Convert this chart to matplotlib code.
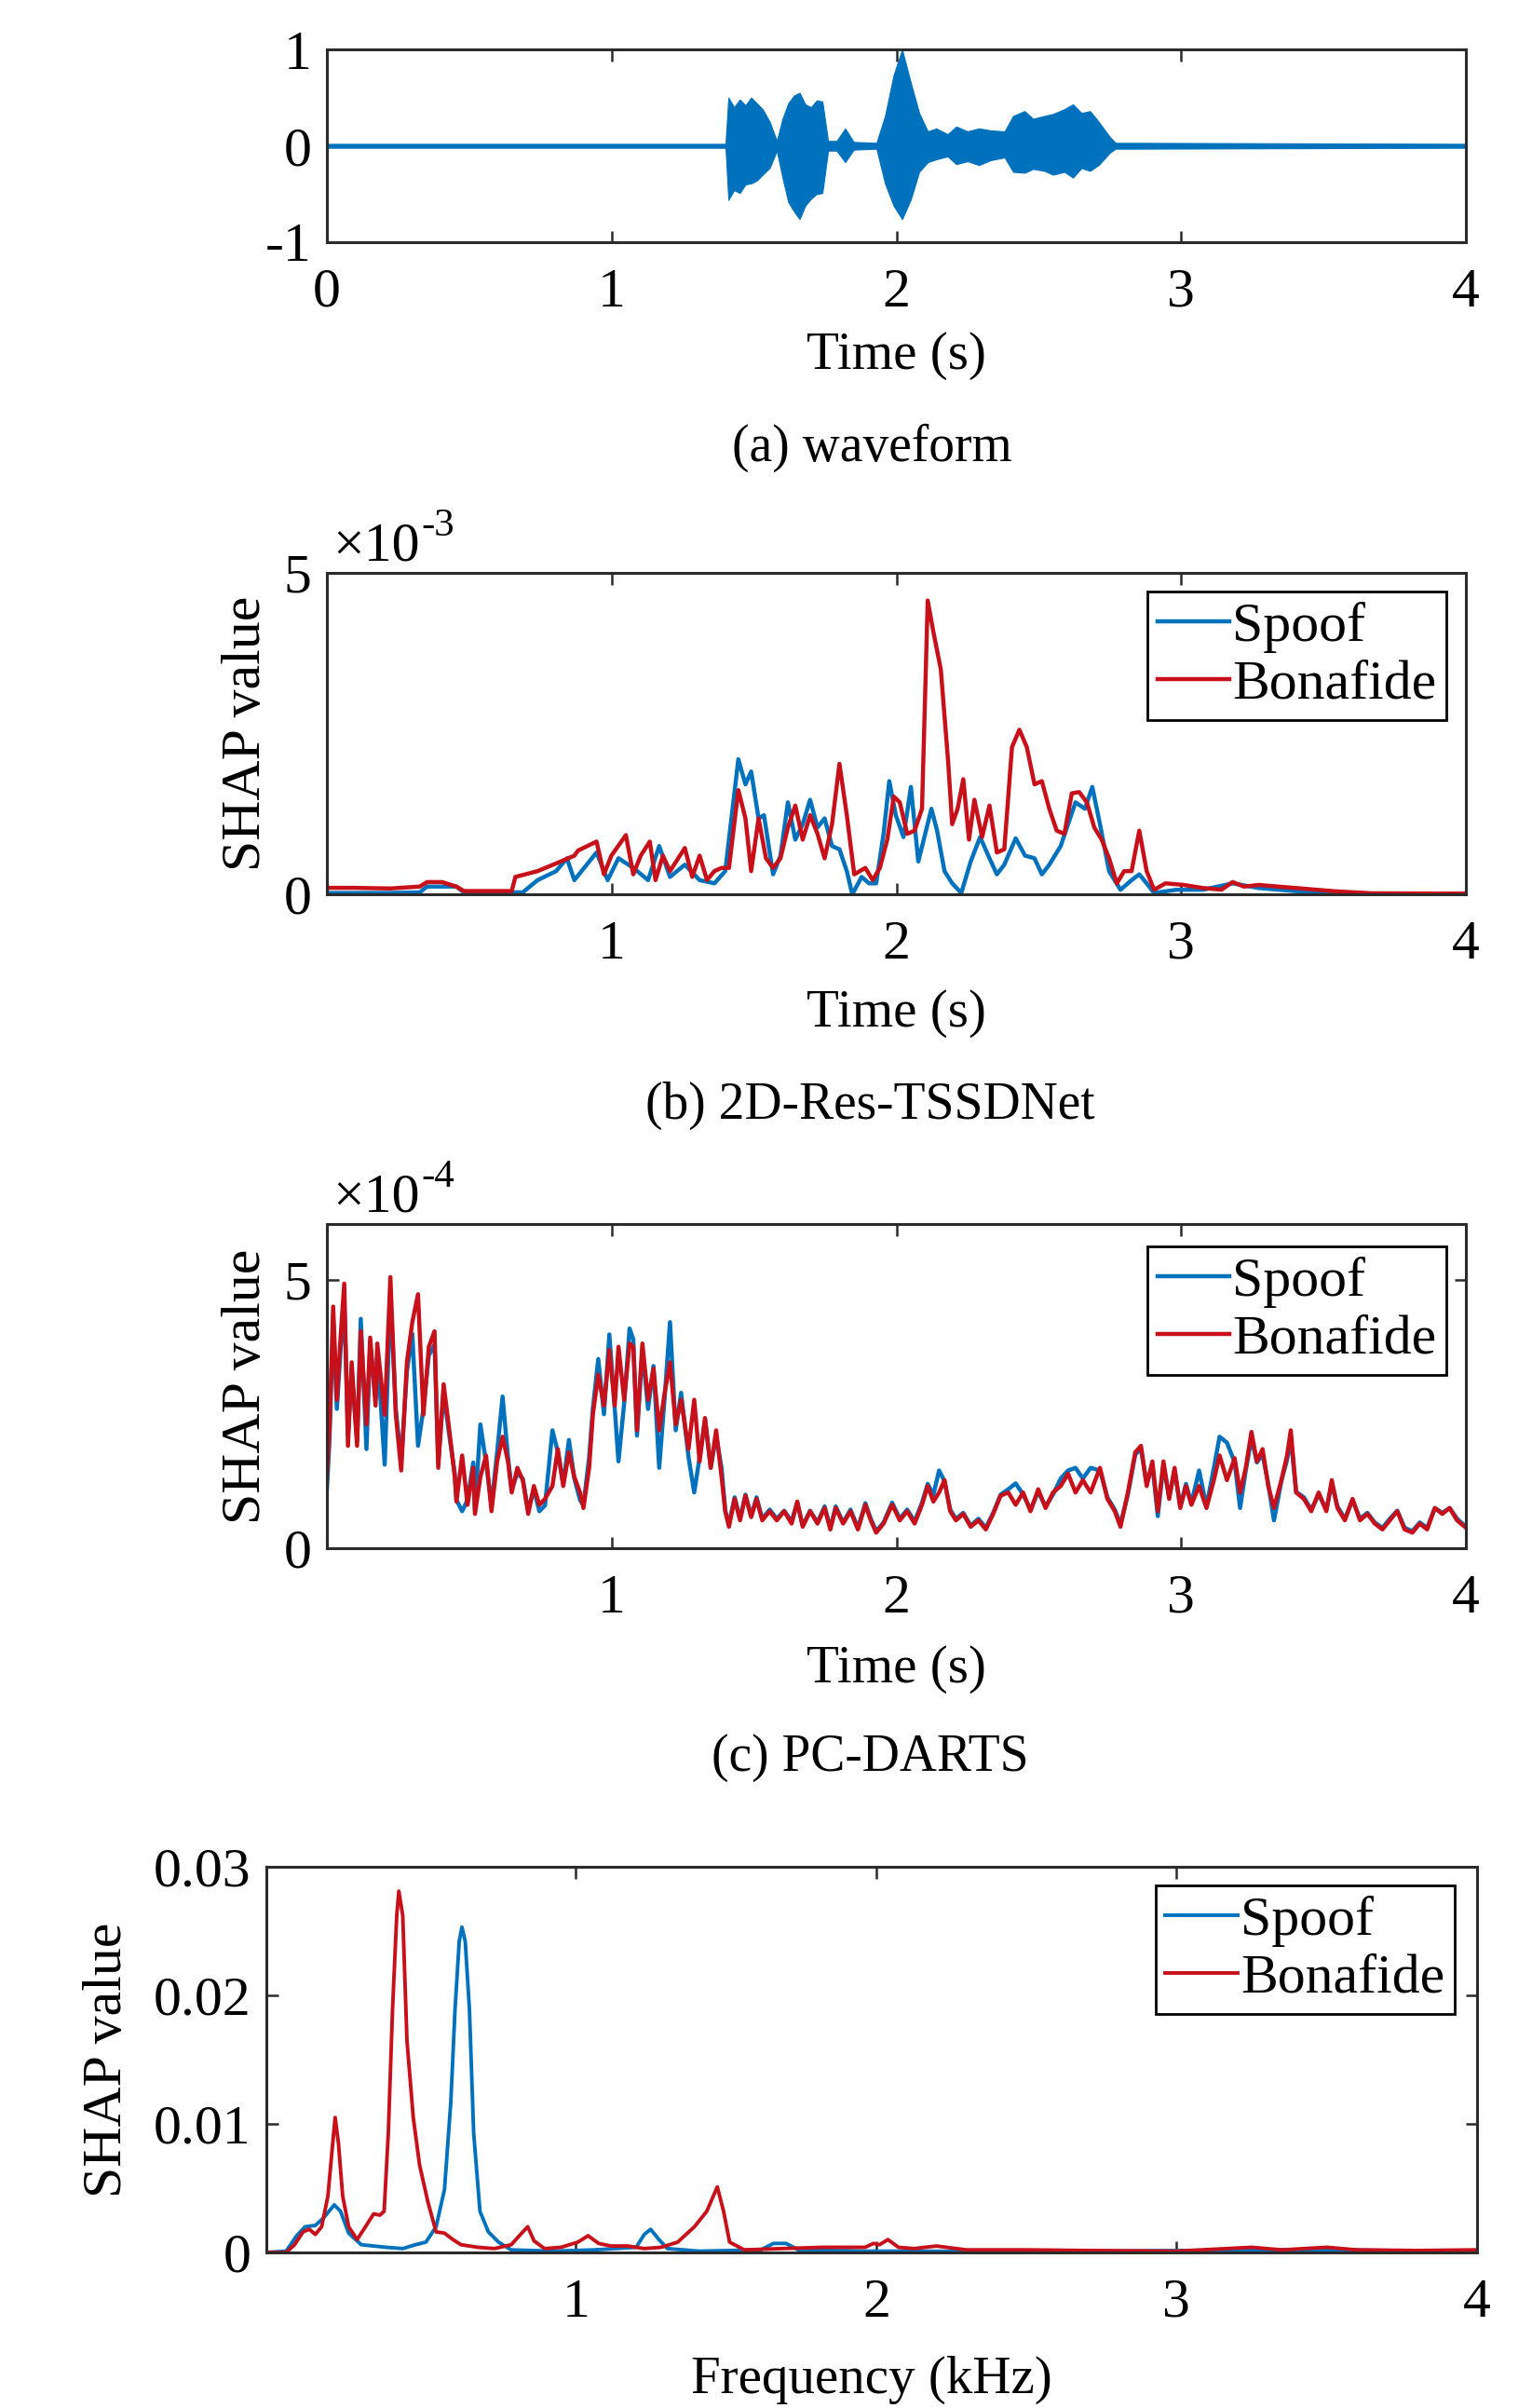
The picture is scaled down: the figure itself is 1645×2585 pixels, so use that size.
import numpy as np
from matplotlib import pyplot as plt

plt.rcParams['font.family'] = ['Liberation Serif', 'DejaVu Serif']
plt.rcParams['axes.unicode_minus'] = False

FS_TICK = 43
FS_LAB = 41
FS_LEG = 43
FS_CAP = 40
BLUE = '#0072BD'
RED = '#C8101A'
FRAME = '#2b2b2b'

# (a) waveform, read as upper / lower envelope of the signal
wave_t = [0.00, 1.40, 1.41, 1.43, 1.45, 1.47, 1.49, 1.51, 1.53, 1.555,
          1.58, 1.60, 1.62, 1.64, 1.66, 1.68, 1.70, 1.72, 1.74, 1.76,
          1.79, 1.82, 1.85, 1.93, 1.96, 1.99, 2.02, 2.05, 2.08, 2.11,
          2.14, 2.18, 2.21, 2.25, 2.29, 2.33, 2.38, 2.41, 2.45, 2.48,
          2.52, 2.55, 2.59, 2.62, 2.65, 2.68, 2.71, 2.75, 2.77, 2.86,
          4.00]
wave_up = [0.02, 0.02, 0.50, 0.40, 0.48, 0.42, 0.50, 0.44, 0.38, 0.25,
           0.05, 0.28, 0.44, 0.52, 0.55, 0.43, 0.40, 0.47, 0.46, 0.05,
           0.05, 0.18, 0.04, 0.03, 0.31, 0.73, 1.00, 0.66, 0.34, 0.15,
           0.18, 0.12, 0.20, 0.15, 0.18, 0.16, 0.15, 0.31, 0.36, 0.28,
           0.31, 0.33, 0.38, 0.43, 0.34, 0.36, 0.25, 0.09, 0.03, 0.03,
           0.02]
wave_lo = [-0.02, -0.02, -0.56, -0.46, -0.49, -0.40, -0.39, -0.36, -0.30, -0.23,
           -0.05, -0.33, -0.58, -0.68, -0.76, -0.62, -0.55, -0.50, -0.49, -0.05,
           -0.05, -0.17, -0.04, -0.03, -0.39, -0.62, -0.76, -0.56, -0.27, -0.17,
           -0.14, -0.11, -0.19, -0.16, -0.20, -0.15, -0.12, -0.27, -0.28, -0.24,
           -0.26, -0.30, -0.27, -0.33, -0.23, -0.26, -0.20, -0.07, -0.03, -0.03,
           -0.02]

# (b) 2D-Res-TSSDNet, values in units of 1e-3
b_spoof_t = [0.000, 0.223, 0.326, 0.352, 0.404, 0.455, 0.481, 0.688, 0.740, 0.805,
             0.843, 0.869, 0.947, 0.986, 1.024, 1.076, 1.128, 1.167, 1.205, 1.257,
             1.309, 1.361, 1.399, 1.445, 1.470, 1.490, 1.516, 1.535, 1.567, 1.593,
             1.619, 1.645, 1.671, 1.697, 1.723, 1.748, 1.774, 1.800, 1.826, 1.845,
             1.878, 1.904, 1.929, 1.955, 1.975, 1.998, 2.025, 2.051, 2.077, 2.104,
             2.123, 2.143, 2.169, 2.196, 2.228, 2.261, 2.294, 2.327, 2.353, 2.379,
             2.419, 2.452, 2.485, 2.511, 2.537, 2.577, 2.603, 2.629, 2.662, 2.688,
             2.715, 2.747, 2.787, 2.826, 2.853, 2.879, 2.905, 2.984, 3.076, 3.181,
             3.273, 3.404, 3.667, 4.000]
b_spoof_v = [0.02, 0.02, 0.03, 0.12, 0.12, 0.12, 0.03, 0.03, 0.22, 0.36,
             0.56, 0.22, 0.65, 0.22, 0.56, 0.41, 0.22, 0.75, 0.27, 0.46,
             0.22, 0.17, 0.36, 2.10, 1.71, 1.91, 1.18, 1.23, 0.31, 0.60,
             1.43, 0.85, 1.09, 1.47, 1.04, 1.18, 0.75, 0.70, 0.36, 0.00,
             0.27, 0.17, 0.17, 0.94, 1.76, 1.23, 0.89, 1.67, 0.51, 0.99,
             1.33, 0.99, 0.36, 0.17, 0.02, 0.51, 0.89, 0.56, 0.31, 0.46,
             0.87, 0.60, 0.56, 0.31, 0.46, 0.75, 1.09, 1.43, 1.33, 1.67,
             1.09, 0.36, 0.07, 0.22, 0.31, 0.17, 0.02, 0.07, 0.07, 0.17,
             0.097, 0.048, 0.01, 0.01]
b_bona_t = [0.000, 0.093, 0.223, 0.326, 0.352, 0.404, 0.455, 0.481, 0.546, 0.649,
            0.662, 0.740, 0.805, 0.869, 0.882, 0.947, 0.973, 0.999, 1.050, 1.076,
            1.102, 1.134, 1.154, 1.180, 1.205, 1.257, 1.283, 1.309, 1.335, 1.361,
            1.386, 1.412, 1.445, 1.470, 1.490, 1.516, 1.542, 1.567, 1.593, 1.619,
            1.645, 1.671, 1.697, 1.723, 1.748, 1.774, 1.800, 1.826, 1.852, 1.891,
            1.917, 1.942, 1.968, 1.991, 2.012, 2.038, 2.064, 2.090, 2.110, 2.130,
            2.156, 2.182, 2.196, 2.215, 2.235, 2.255, 2.274, 2.301, 2.327, 2.353,
            2.379, 2.406, 2.432, 2.458, 2.485, 2.511, 2.537, 2.563, 2.590, 2.616,
            2.642, 2.669, 2.695, 2.721, 2.747, 2.774, 2.800, 2.826, 2.853, 2.879,
            2.905, 2.945, 3.010, 3.076, 3.142, 3.181, 3.220, 3.273, 3.339, 3.404,
            3.470, 3.536, 3.667, 4.000]
b_bona_v = [0.10, 0.10, 0.09, 0.12, 0.19, 0.19, 0.12, 0.05, 0.05, 0.05,
            0.27, 0.36, 0.48, 0.60, 0.68, 0.82, 0.31, 0.60, 0.92, 0.31,
            0.60, 0.82, 0.22, 0.60, 0.36, 0.72, 0.27, 0.60, 0.22, 0.36,
            0.41, 0.41, 1.62, 1.18, 0.36, 1.18, 0.56, 0.41, 0.56, 1.04,
            1.38, 0.85, 1.23, 0.94, 0.56, 1.09, 2.03, 1.23, 0.31, 0.41,
            0.22, 0.41, 0.85, 1.52, 1.43, 0.94, 0.99, 1.33, 4.57, 4.08,
            3.50, 2.05, 1.09, 1.33, 1.79, 0.85, 1.47, 0.89, 1.38, 0.65,
            0.70, 2.29, 2.56, 2.29, 1.71, 1.76, 1.33, 0.99, 0.94, 1.57,
            1.59, 1.43, 1.04, 0.85, 0.56, 0.17, 0.36, 0.36, 0.99, 0.36,
            0.07, 0.17, 0.145, 0.097, 0.072, 0.19, 0.12, 0.145, 0.12, 0.097,
            0.072, 0.048, 0.015, 0.01]

# (c) PC-DARTS, values in units of 1e-4 (both series share the time grid)
c_t = [0.000, 0.009, 0.022, 0.035, 0.048, 0.061, 0.074, 0.087, 0.106, 0.119,
       0.139, 0.152, 0.171, 0.177, 0.203, 0.223, 0.242, 0.261, 0.281, 0.300,
       0.320, 0.339, 0.358, 0.378, 0.391, 0.410, 0.430, 0.449, 0.455, 0.475,
       0.494, 0.514, 0.520, 0.539, 0.559, 0.578, 0.598, 0.617, 0.636, 0.649,
       0.669, 0.688, 0.707, 0.727, 0.746, 0.766, 0.792, 0.811, 0.830, 0.850,
       0.869, 0.889, 0.901, 0.921, 0.934, 0.953, 0.973, 0.992, 1.011, 1.024,
       1.044, 1.063, 1.076, 1.089, 1.108, 1.128, 1.147, 1.167, 1.186, 1.205,
       1.225, 1.244, 1.270, 1.290, 1.309, 1.328, 1.348, 1.367, 1.386, 1.399,
       1.412, 1.432, 1.451, 1.470, 1.490, 1.509, 1.529, 1.555, 1.580, 1.606,
       1.632, 1.652, 1.671, 1.697, 1.723, 1.748, 1.768, 1.787, 1.813, 1.839,
       1.865, 1.891, 1.910, 1.929, 1.955,
       1.985, 2.012, 2.038, 2.064, 2.090, 2.110, 2.130, 2.150, 2.169, 2.189,
       2.209, 2.235, 2.261, 2.288, 2.314, 2.340, 2.366, 2.393, 2.419, 2.445,
       2.471, 2.498, 2.524, 2.550, 2.577, 2.603, 2.629, 2.655, 2.682, 2.715,
       2.741, 2.767, 2.787, 2.813, 2.839, 2.859, 2.879, 2.899, 2.918, 2.938,
       2.958, 2.977, 2.997, 3.017, 3.036, 3.063, 3.089, 3.115, 3.135, 3.161,
       3.188, 3.207, 3.227, 3.247, 3.266, 3.286, 3.306, 3.326, 3.352, 3.372,
       3.385, 3.404, 3.431, 3.457, 3.483, 3.510, 3.529, 3.549, 3.575, 3.602,
       3.628, 3.654, 3.680, 3.707, 3.733, 3.759, 3.785, 3.812, 3.838, 3.864,
       3.891, 3.917, 3.943, 3.969, 3.996]
c_spoof_v = [1.10, 2.00, 4.30, 2.60, 3.70, 4.60, 2.10, 3.30, 2.00, 4.28,
             1.85, 3.80, 2.80, 3.70, 1.56, 4.70, 2.60, 1.60, 3.30, 4.00,
             1.91, 2.60, 3.60, 3.80, 1.60, 2.90, 2.10, 1.40, 0.90, 0.69,
             0.90, 1.60, 0.70, 2.31, 1.60, 0.80, 1.80, 2.83, 1.70, 1.10,
             1.40, 1.30, 0.70, 1.10, 0.69, 0.80, 2.20, 1.80, 1.20, 2.02,
             1.30, 0.90, 0.80, 1.70, 2.60, 3.53, 2.50, 3.99, 2.60, 1.62,
             2.70, 4.10, 3.90, 2.10, 3.70, 2.60, 3.40, 1.50, 2.80, 4.22,
             2.20, 2.90, 1.70, 1.04, 1.70, 2.40, 1.50, 2.10, 1.50, 0.70,
             0.45, 0.95, 0.55, 1.00, 0.60, 0.95, 0.55, 0.72, 0.55, 0.70,
             0.50, 0.85, 0.42, 0.70, 0.48, 0.78, 0.38, 0.78, 0.48, 0.72,
             0.38, 0.84, 0.55, 0.32, 0.48,
             0.85, 0.55, 0.72, 0.50, 0.85, 1.20, 1.00, 1.45, 1.25, 0.72,
             0.55, 0.66, 0.42, 0.55, 0.38, 0.66, 1.00, 1.10, 1.21, 1.00,
             0.72, 1.05, 0.78, 1.00, 1.30, 1.45, 1.50, 1.30, 1.50, 1.45,
             0.95, 0.72, 0.45, 1.00, 1.75, 1.85, 1.20, 1.55, 0.60, 1.55,
             0.95, 1.45, 0.78, 1.20, 0.84, 1.45, 0.78, 1.50, 2.08, 1.97,
             1.60, 0.75, 1.45, 2.05, 1.60, 1.75, 1.20, 0.52, 1.25, 1.65,
             2.05, 1.05, 0.95, 0.72, 1.00, 0.72, 1.20, 0.78, 0.55, 0.90,
             0.55, 0.66, 0.48, 0.38, 0.55, 0.70, 0.38, 0.32, 0.48, 0.38,
             0.75, 0.66, 0.75, 0.55, 0.42]
c_bona_v = [1.33, 2.20, 4.51, 2.77, 3.93, 4.94, 1.91, 3.47, 1.91, 4.05,
            2.31, 3.93, 2.66, 3.82, 2.49, 5.06, 2.49, 1.45, 3.47, 4.22,
            4.74, 2.49, 3.76, 4.05, 1.50, 3.06, 2.20, 1.33, 0.87, 1.73,
            0.81, 1.50, 0.64, 1.33, 1.73, 0.69, 1.62, 2.08, 1.62, 1.04,
            1.50, 1.27, 0.64, 1.16, 0.81, 0.92, 1.16, 1.85, 1.16, 1.79,
            1.33, 1.04, 0.75, 1.50, 2.49, 3.24, 2.66, 3.70, 2.66, 3.76,
            2.77, 3.82, 3.76, 2.20, 3.82, 2.77, 3.35, 2.20, 2.89, 3.47,
            2.31, 2.77, 1.85, 2.77, 1.62, 2.43, 1.50, 2.20, 1.33, 0.69,
            0.40, 0.92, 0.52, 0.98, 0.58, 0.92, 0.52, 0.69, 0.52, 0.69,
            0.46, 0.87, 0.40, 0.69, 0.46, 0.75, 0.35, 0.75, 0.46, 0.69,
            0.35, 0.81, 0.52, 0.29, 0.46,
            0.81, 0.52, 0.69, 0.46, 0.81, 1.16, 0.87, 1.04, 1.27, 0.69,
            0.52, 0.64, 0.40, 0.52, 0.35, 0.64, 0.98, 1.04, 0.81, 1.04,
            0.69, 1.10, 0.75, 1.04, 1.16, 1.39, 1.04, 1.27, 1.04, 1.50,
            0.92, 0.69, 0.40, 1.04, 1.79, 1.91, 1.16, 1.62, 0.69, 1.62,
            0.92, 1.50, 0.75, 1.16, 0.81, 1.16, 0.75, 1.27, 1.73, 1.27,
            1.68, 1.04, 1.50, 2.17, 1.62, 1.85, 1.16, 0.75, 1.27, 1.73,
            2.20, 1.04, 0.92, 0.69, 1.04, 0.69, 1.27, 0.75, 0.52, 0.92,
            0.52, 0.64, 0.46, 0.35, 0.52, 0.69, 0.35, 0.29, 0.46, 0.35,
            0.75, 0.64, 0.75, 0.52, 0.40]

# (d) frequency SHAP
d_spoof_f = [-0.030, 0.036, 0.071, 0.099, 0.133, 0.161, 0.196, 0.217, 0.244, 0.286,
             0.327, 0.369, 0.424, 0.466, 0.501, 0.535, 0.563, 0.584, 0.598, 0.612,
             0.621, 0.632, 0.646, 0.660, 0.681, 0.709, 0.743, 0.785, 0.924, 1.062,
             1.201, 1.228, 1.249, 1.277, 1.305, 1.409, 1.616, 1.658, 1.700, 1.741,
             1.963, 2.126, 2.500, 3.300, 3.550, 4.000]
d_spoof_v = [0.0000, 0.0001, 0.0013, 0.0020, 0.0021, 0.0027, 0.0037, 0.0032, 0.0015, 0.0006,
             0.0005, 0.0004, 0.0003, 0.0006, 0.0008, 0.0020, 0.0049, 0.0117, 0.0189, 0.0242,
             0.0253, 0.0242, 0.0189, 0.0093, 0.0032, 0.0016, 0.0008, 0.0002, 0.0001, 0.0002,
             0.0004, 0.0014, 0.0018, 0.0010, 0.0003, 0.0001, 0.0002, 0.0007, 0.0007, 0.0002,
             0.0001, 0.0001, 0.00005, 0.0002, 0.0002, 0.00005]
d_bona_f = [-0.030, 0.036, 0.064, 0.092, 0.113, 0.133, 0.154, 0.175, 0.189, 0.199,
            0.210, 0.224, 0.244, 0.272, 0.300, 0.327, 0.348, 0.362, 0.376, 0.390,
            0.404, 0.411, 0.424, 0.438, 0.459, 0.480, 0.508, 0.535, 0.563, 0.591,
            0.618, 0.674, 0.729, 0.785, 0.820, 0.840, 0.861, 0.896, 0.951, 1.007,
            1.041, 1.076, 1.117, 1.173, 1.228, 1.284, 1.339, 1.395, 1.436, 1.471,
            1.492, 1.512, 1.561, 1.686, 1.824, 1.963, 1.991, 2.011, 2.039, 2.074,
            2.126, 2.200, 2.300, 2.500, 2.700, 3.000, 3.250, 3.350, 3.500, 3.600,
            3.800, 4.000]
d_bona_v = [0.0000, 0.0000, 0.0006, 0.0016, 0.0018, 0.0014, 0.0020, 0.0044, 0.0080, 0.0105,
            0.0085, 0.0044, 0.0020, 0.0010, 0.0020, 0.0030, 0.0029, 0.0032, 0.0093, 0.0189,
            0.0262, 0.0281, 0.0262, 0.0165, 0.0105, 0.0068, 0.0039, 0.0016, 0.0015, 0.0010,
            0.0006, 0.0004, 0.0003, 0.0006, 0.0015, 0.0020, 0.0009, 0.0003, 0.0004, 0.0008,
            0.0013, 0.0007, 0.0005, 0.0005, 0.0003, 0.0004, 0.0008, 0.0020, 0.0032, 0.0051,
            0.0032, 0.0008, 0.0002, 0.0003, 0.0004, 0.0004, 0.0007, 0.0006, 0.0010, 0.0004,
            0.0003, 0.0005, 0.0002, 0.0002, 0.00015, 0.0001, 0.0004, 0.0002, 0.0004, 0.0002,
            0.00015, 0.0002]

W, H = 1645, 2585
fig = plt.figure(figsize=(W / 100, H / 100), dpi=100)


def box(l, t, r, b):
    # pixel box -> figure fraction
    return [l / W, 1 - b / H, (r - l) / W, (b - t) / H]


def style(ax):
    for s in ax.spines.values():
        s.set_color(FRAME)
        s.set_linewidth(2.2)
    ax.tick_params(direction='in', length=9, width=1.8, top=True, right=True,
                   labelsize=FS_TICK, color=FRAME, pad=12)
    ax.tick_params(axis='x', pad=20)


def legend(ax, x, y):
    lg = ax.legend(loc='upper right', bbox_to_anchor=(x, y), borderaxespad=0,
                   fontsize=FS_LEG, handlelength=1.3, handletextpad=0.05,
                   borderpad=0.18, labelspacing=0.12, fancybox=False, framealpha=1)
    lg.get_frame().set_edgecolor('black')
    lg.get_frame().set_linewidth(2.0)


def multiplier(ax, expo):
    base = ax.text(0.005, 1.04, '\u00d710', transform=ax.transAxes,
                   fontsize=FS_TICK, va='baseline', ha='left')
    # exponent hangs off the top right corner of the "x10" text
    ax.annotate(expo, xy=(1.0, 0.92), xycoords=base, xytext=(1, 0),
                textcoords='offset points', fontsize=FS_TICK * 0.72,
                va='center', ha='left')


ax_a = fig.add_axes(box(351, 53, 1574, 260))
ax_b = fig.add_axes(box(351, 615, 1574, 960))
ax_c = fig.add_axes(box(351, 1314, 1574, 1662))
ax_d = fig.add_axes(box(286, 2004, 1586, 2418))

# (a)
ax_a.fill_between(wave_t, wave_lo, wave_up, color=BLUE, lw=0.8, edgecolor=BLUE)
ax_a.plot([0, 4], [0, 0], color=BLUE, lw=2.5)
ax_a.set_xlim(0, 4)
ax_a.set_ylim(-1, 1)
ax_a.set_xticks([0, 1, 2, 3, 4])
ax_a.set_yticks([-1, 0, 1])
style(ax_a)

# (b)
ax_b.plot(b_spoof_t, b_spoof_v, color=BLUE, lw=3.2, label='Spoof')
ax_b.plot(b_bona_t, b_bona_v, color=RED, lw=3.2, label='Bonafide')
ax_b.set_xlim(0, 4)
ax_b.set_ylim(0, 5)
ax_b.set_xticks([1, 2, 3, 4])
ax_b.set_yticks([0, 5])
style(ax_b)
legend(ax_b, 0.983, 0.942)
multiplier(ax_b, '-3')

# (c)
ax_c.plot(c_t, c_spoof_v, color=BLUE, lw=3.2, label='Spoof')
ax_c.plot(c_t, c_bona_v, color=RED, lw=3.2, label='Bonafide')
ax_c.set_xlim(0, 4)
ax_c.set_ylim(0, 6.05)
ax_c.set_xticks([1, 2, 3, 4])
ax_c.set_yticks([0, 5])
style(ax_c)
legend(ax_c, 0.983, 0.931)
multiplier(ax_c, '-4')

# (d)
ax_d.plot(d_spoof_f, d_spoof_v, color=BLUE, lw=2.8, label='Spoof')
ax_d.plot(d_bona_f, d_bona_v, color=RED, lw=2.8, label='Bonafide')
ax_d.set_xlim(-0.03, 4)
ax_d.set_ylim(0, 0.03)
ax_d.set_xticks([1, 2, 3, 4])
ax_d.set_yticks([0, 0.01, 0.02, 0.03])
ax_d.set_yticklabels(['0', '0.01', '0.02', '0.03'])
style(ax_d)
legend(ax_d, 0.9815, 0.952)

# axis labels
for ax, xl, yl in [(ax_a, 'Time (s)', -0.589), (ax_b, 'Time (s)', -0.371),
                   (ax_c, 'Time (s)', -0.374), (ax_d, 'Frequency (kHz)', -0.331)]:
    ax.set_xlabel(xl, fontsize=FS_LAB)
    ax.xaxis.label.set_va('center')
    ax.xaxis.set_label_coords(0.5, yl)

for ax, xpos in [(ax_b, -0.070), (ax_c, -0.070), (ax_d, -0.131)]:
    ax.set_ylabel('SHAP value', fontsize=FS_TICK)
    ax.yaxis.label.set_va('center')
    ax.yaxis.set_label_coords(xpos, 0.5)

# sub-captions
fig.text(936 / W, 1 - 481 / H, '(a) waveform', fontsize=FS_CAP, ha='center', va='center')
fig.text(934 / W, 1 - 1187 / H, '(b) 2D-Res-TSSDNet', fontsize=FS_CAP, ha='center', va='center')
fig.text(934 / W, 1 - 1887 / H, '(c) PC-DARTS', fontsize=FS_CAP, ha='center', va='center')

fig.savefig('out.png', dpi=100)
